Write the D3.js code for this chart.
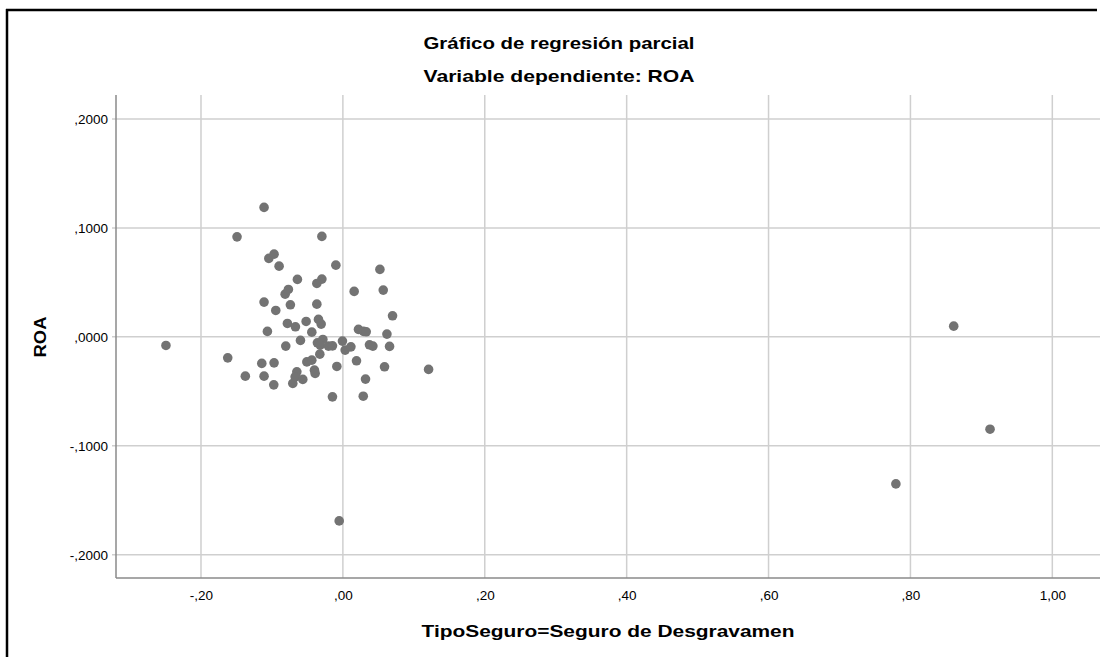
<!DOCTYPE html>
<html>
<head>
<meta charset="utf-8">
<script src="https://cdn.jsdelivr.net/npm/d3@7"></script>
<style>
  html, body { margin: 0; padding: 0; background: #ffffff; }
  svg { display: block; }
  text { font-family: "Liberation Sans", Arial, sans-serif; fill: #000; }
</style>
</head>
<body>
<svg id="chart" width="1102" height="657"></svg>
<script>
// ---- Data ----
const titleLines = ["Gráfico de regresión parcial", "Variable dependiente: ROA"];
const xLabel = "TipoSeguro=Seguro de Desgravamen";
const yLabel = "ROA";

const xTicks = [-0.20, 0.00, 0.20, 0.40, 0.60, 0.80, 1.00];
const xTickLabels = ["-,20", ",00", ",20", ",40", ",60", ",80", "1,00"];
const yTicks = [0.2, 0.1, 0.0, -0.1, -0.2];
const yTickLabels = [",2000", ",1000", ",0000", "-,1000", "-,2000"];

// partial residuals: TipoSeguro (x) vs ROA (y)
const xValues = [
  -0.1111, -0.1492, -0.0296, -0.1044, -0.0970, -0.0899, -0.0099, 0.0522, -0.0641, -0.0296,
  -0.0367, 0.0159, 0.0569, -0.0814, -0.0768, -0.1111, -0.0740, -0.0367, -0.0946, 0.0700,
  -0.0782, -0.0669, -0.0518, -0.0344, -0.0306, -0.1064, -0.0438, 0.0220, 0.0291, 0.0329,
  0.0621, -0.0805, -0.0598, -0.0359, -0.0282, -0.0320, -0.0203, -0.0147, -0.0006, 0.0032,
  0.0113, 0.0375, 0.0423, 0.0658, -0.2494, -0.1623, -0.1143, -0.0970, -0.0508, -0.0438,
  -0.0325, 0.0192, -0.0085, 0.0587, -0.1375, -0.1111, -0.0649, -0.0673, -0.0706, -0.0565,
  -0.0401, -0.0391, -0.0974, 0.0319, -0.0147, 0.0287, 0.1208, -0.0052, 0.8610, 0.9122,
  0.7795
];
const yValues = [
  0.1188, 0.0918, 0.0922, 0.0720, 0.0759, 0.0649, 0.0658, 0.0619, 0.0527, 0.0530,
  0.0490, 0.0417, 0.0429, 0.0392, 0.0435, 0.0319, 0.0294, 0.0300, 0.0242, 0.0193,
  0.0123, 0.0092, 0.0141, 0.0160, 0.0117, 0.0050, 0.0043, 0.0068, 0.0050, 0.0046,
  0.0025, -0.0085, -0.0033, -0.0055, -0.0024, -0.0076, -0.0085, -0.0083, -0.0039, -0.0122,
  -0.0092, -0.0073, -0.0085, -0.0088, -0.0079, -0.0193, -0.0244, -0.0239, -0.0230, -0.0214,
  -0.0159, -0.0220, -0.0272, -0.0275, -0.0361, -0.0361, -0.0321, -0.0367, -0.0428, -0.0391,
  -0.0306, -0.0336, -0.0441, -0.0388, -0.0551, -0.0545, -0.0299, -0.1690, 0.0098, -0.0848,
  -0.1350
];

// ---- Layout ----
const svg = d3.select("#chart");
const plot = { left: 116, right: 1100, top: 95, bottom: 578 };

const x = d3.scaleLinear().domain([-0.3198, 1.0672]).range([plot.left, plot.right]);
const y = d3.scaleLinear().domain([-0.2214, 0.2220]).range([plot.bottom, plot.top]);

// outer frame
svg.append("line").attr("x1", 7).attr("x2", 7).attr("y1", 9).attr("y2", 657)
  .attr("stroke", "#000").attr("stroke-width", 2.5);
svg.append("line").attr("x1", 6).attr("x2", 1097).attr("y1", 10).attr("y2", 10)
  .attr("stroke", "#000").attr("stroke-width", 2.5);

// gridlines
const grid = svg.append("g");
grid.selectAll("line.vx").data(xTicks).enter().append("line")
  .attr("x1", d => x(d)).attr("x2", d => x(d))
  .attr("y1", plot.top).attr("y2", plot.bottom)
  .attr("stroke", "#cfcfcf").attr("stroke-width", 1.5);
grid.selectAll("line.hy").data(yTicks).enter().append("line")
  .attr("x1", plot.left - 4).attr("x2", plot.right)
  .attr("y1", d => y(d)).attr("y2", d => y(d))
  .attr("stroke", "#cfcfcf").attr("stroke-width", 1.5);

// axes
const xAxis = d3.axisBottom(x).tickValues(xTicks)
  .tickFormat((d, i) => xTickLabels[i]).tickSize(0).tickPadding(12);
const yAxis = d3.axisLeft(y).tickValues(yTicks)
  .tickFormat((d, i) => yTickLabels[i]).tickSize(0).tickPadding(8);

const gx = svg.append("g").attr("transform", `translate(0,${plot.bottom})`).call(xAxis);
const gy = svg.append("g").attr("transform", `translate(${plot.left},0)`).call(yAxis);
[gx, gy].forEach(g => {
  g.select(".domain").remove();
  g.selectAll("text").style("font-family", "'Liberation Sans', Arial, sans-serif")
    .style("font-size", "13.5px").attr("fill", "#000");
});

// axis lines
svg.append("line").attr("x1", plot.left).attr("x2", plot.right)
  .attr("y1", plot.bottom).attr("y2", plot.bottom)
  .attr("stroke", "#8a8a8a").attr("stroke-width", 1.5);
svg.append("line").attr("x1", plot.left).attr("x2", plot.left)
  .attr("y1", plot.top).attr("y2", plot.bottom)
  .attr("stroke", "#8a8a8a").attr("stroke-width", 1.5);

// points
const pts = xValues.map((v, i) => ({ x: v, y: yValues[i] }));
svg.append("g").selectAll("circle").data(pts).enter().append("circle")
  .attr("cx", d => x(d.x)).attr("cy", d => y(d.y)).attr("r", 4.8)
  .attr("fill", "#737373");

// titles
svg.append("text").attr("x", 559).attr("y", 49).attr("text-anchor", "middle")
  .style("font-size", "17px").style("font-weight", "bold")
  .attr("textLength", 271).attr("lengthAdjust", "spacingAndGlyphs")
  .text(titleLines[0]);
svg.append("text").attr("x", 559).attr("y", 82).attr("text-anchor", "middle")
  .style("font-size", "17px").style("font-weight", "bold")
  .attr("textLength", 271).attr("lengthAdjust", "spacingAndGlyphs")
  .text(titleLines[1]);

svg.append("text").attr("x", 608).attr("y", 637).attr("text-anchor", "middle")
  .style("font-size", "17px").style("font-weight", "bold")
  .attr("textLength", 373).attr("lengthAdjust", "spacingAndGlyphs")
  .text(xLabel);

svg.append("text").attr("transform", "translate(46,337) rotate(-90)")
  .attr("text-anchor", "middle")
  .style("font-size", "17px").style("font-weight", "bold")
  .attr("textLength", 41).attr("lengthAdjust", "spacingAndGlyphs")
  .text(yLabel);
</script>
</body>
</html>
